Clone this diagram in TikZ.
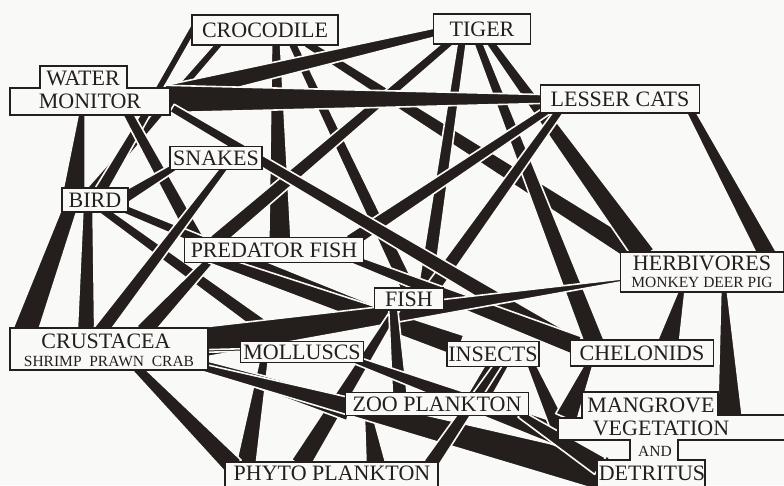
\documentclass[tikz,border=0pt]{standalone}
\usepackage{fontspec}
\newfontfamily\labfont{Liberation Serif}
\usetikzlibrary{calc}
\definecolor{ink}{RGB}{36,31,28}
\definecolor{paper}{RGB}{249,249,247}
\pgfdeclarelayer{bg}
\pgfdeclarelayer{edges}
\pgfsetlayers{bg,edges,main}
\newcommand\wdg[6]{\path[wedgestyle] let \p1=($(#1)+(#2)$), \p2=($(#3)+(#4)$), \n1={atan2(\y2-\y1,\x2-\x1)} in
 ($(\p1)+(\n1+90:#5*0.62pt+1.3pt)$) -- ($(\p2)+(\n1+90:#6*0.62pt+1.3pt)$) -- ($(\p2)+(\n1-90:#6*0.62pt+1.3pt)$) -- ($(\p1)+(\n1-90:#5*0.62pt+1.3pt)$) -- cycle;}
\begin{document}
\begin{tikzpicture}[x=1pt,y=-1pt,
  wedgestyle/.style={fill=ink, draw=paper, line width=1.6pt, line join=round},
  box/.style={draw=ink, fill=paper, line width=1.4pt, inner sep=0pt, text=ink},
  big/.style={font=\labfont\fontsize{22}{22}\selectfont, text=ink, inner sep=0pt},
  small/.style={font=\labfont\fontsize{15.5}{16}\selectfont, text=ink, inner sep=0pt}]
\useasboundingbox (0,0) rectangle (784,485);
\clip (0,0) rectangle (784,485);
\begin{pgfonlayer}{bg}
\fill[paper] (0,0) rectangle (784,485);
\end{pgfonlayer}

% ---- nodes ----
\node[box,big,minimum width=146pt,minimum height=30pt] (croc) at (265,30) {CROCODILE};
\node[box,big,minimum width=97pt,minimum height=30pt] (tiger) at (482,29) {TIGER};
\filldraw[draw=ink, fill=paper, line width=1.4pt] (40,66) -- (127,66) -- (127,88) -- (170,88) -- (170,115) -- (10,115) -- (10,88) -- (40,88) -- cycle;
\node[big] (wmw) at (83,78) {WATER};
\node[big] (wm) at (90,101) {MONITOR};
\node[box,big,minimum width=159pt,minimum height=28pt] (lc) at (620,99) {LESSER CATS};
\node[box,big,minimum width=92pt,minimum height=23pt] (snakes) at (216,158) {SNAKES};
\node[box,big,minimum width=66pt,minimum height=24pt] (bird) at (95,200) {BIRD};
\node[box,big,minimum width=179pt,minimum height=25pt] (pf) at (274,250) {PREDATOR FISH};
\node[box,minimum width=163pt,minimum height=40pt] (herb) at (702,272) {};
\node[big] (herbt) at (702,263) {HERBIVORES};
\node[small] (herbs) at (702,282) {MONKEY DEER PIG};
\node[box,big,minimum width=69pt,minimum height=22pt] (fish) at (409,299) {FISH};
\node[box,minimum width=198pt,minimum height=42pt] (crus) at (109,349) {};
\node[big] (crust) at (106,341) {CRUSTACEA};
\node[small] (cruss) at (109,361) {SHRIMP\ \ PRAWN\ \ CRAB};
\node[box,big,minimum width=123pt,minimum height=21pt] (moll) at (302,352) {MOLLUSCS};
\node[box,big,minimum width=92pt,minimum height=25pt] (ins) at (493,354) {INSECTS};
\node[box,big,minimum width=143pt,minimum height=26pt] (chel) at (642,353) {CHELONIDS};
\node[box,big,minimum width=183pt,minimum height=23pt] (zoo) at (437,404) {ZOO PLANKTON};
\filldraw[draw=ink, fill=paper, line width=1.4pt] (225,462) rectangle (438,492);
\node[big] (phyto) at (332,473) {PHYTO PLANKTON};
\filldraw[draw=ink, fill=paper, line width=1.4pt] (582,392) -- (718,392) -- (718,415) -- (790,415) -- (790,440) -- (678,440) -- (678,460) -- (705,460) -- (705,490) -- (597,490) -- (597,460) -- (630,460) -- (630,440) -- (558,440) -- (558,418) -- (582,418) -- cycle;
\coordinate (mang) at (650,416);
\node[big] (mangt) at (651,405) {MANGROVE};
\node[big] (veget) at (661,428) {VEGETATION};
\node[small] (andt) at (655,451) {AND};
\node[big] (detrt) at (652,473) {DETRITUS};

% ---- wedges ----
\begin{pgfonlayer}{edges}
\wdg{croc}{-71,-3}{wm}{67,-9}{4}{4}
\wdg{croc}{-45,13}{bird}{-5,-7}{4}{7}
\wdg{croc}{11,13}{pf}{6,-8}{5}{16}
\wdg{croc}{27,13}{fish}{1,-7}{5}{10}
\wdg{croc}{41,13}{herb}{-62,-16}{5}{14}
\wdg{tiger}{-45,3}{wm}{78,-6}{5}{14}
\wdg{tiger}{-32,13}{pf}{-59,-8}{5}{10}
\wdg{tiger}{-20,13}{fish}{16,-7}{5}{10}
\wdg{tiger}{-4,13}{chel}{-47,-9}{5}{14}
\wdg{tiger}{8,13}{herb}{-57,-16}{5}{16}
\wdg{wm}{75,-2}{lc}{-75,0}{20}{5}
\wdg{lc}{70,11}{herb}{66,-16}{5}{13}
\wdg{lc}{-60,11}{fish}{21,-7}{5}{10}
\wdg{lc}{-72,11}{pf}{76,-8}{5}{10}
\wdg{wm}{-8,11}{bird}{-21,-8}{3}{16}
\wdg{wm}{57,11}{bird}{5,-8}{5}{8}
\wdg{wm}{37,11}{pf}{-76,-8}{6}{10}
\wdg{wm}{82,7}{chel}{-67,-7}{5}{12}
\wdg{bird}{-25,8}{crus}{-84,-17}{10}{18}
\wdg{bird}{-7,8}{crus}{-23,-17}{6}{12}
\wdg{bird}{5,8}{moll}{-12,-6}{5}{10}
\wdg{bird}{27,8}{ins}{-38,-8}{5}{10}
\wdg{snakes}{-38,7}{bird}{29,-2}{4}{8}
\wdg{snakes}{9,9}{crus}{-9,-17}{4}{10}
\wdg{pf}{-62,8}{crus}{34,-17}{5}{12}
\wdg{pf}{-64,8}{ins}{-33,-8}{6}{16}
\wdg{pf}{76,8}{chel}{-64,-7}{5}{14}
\wdg{crus}{95,-7}{herb}{-78,8}{22}{0}
\wdg{herb}{-20,18}{chel}{26,-9}{3}{16}
\wdg{herb}{22,18}{mang}{80,2}{3}{18}
\wdg{fish}{-11,7}{phyto}{-32,-8}{4}{14}
\wdg{fish}{-16,7}{zoo}{-37,-7}{5}{10}
\wdg{zoo}{-69,8}{phyto}{44,-8}{4}{14}
\wdg{crus}{95,2}{moll}{-58,-2}{0}{0}
\wdg{moll}{-38,8}{phyto}{-86,-8}{5}{14}
\wdg{crus}{26,17}{phyto}{-98,-6}{6}{14}
\wdg{crus}{95,15}{zoo}{-87,6}{4}{16}
\wdg{crus}{95,19}{mang}{-45,58}{4}{26}
\wdg{moll}{53,8}{mang}{-88,20}{4}{16}
\wdg{ins}{37,8}{mang}{-90,14}{5}{12}
\wdg{ins}{-1,8}{zoo}{33,-4}{5}{6}
\wdg{ins}{13,8}{zoo}{47,-4}{5}{6}
\wdg{chel}{-52,9}{mang}{-84,2}{4}{16}
\wdg{phyto}{98,-8}{ins}{7,8}{10}{4}
\wdg{zoo}{83,10}{mang}{-50,50}{4}{14}
\end{pgfonlayer}
\end{tikzpicture}
\end{document}
